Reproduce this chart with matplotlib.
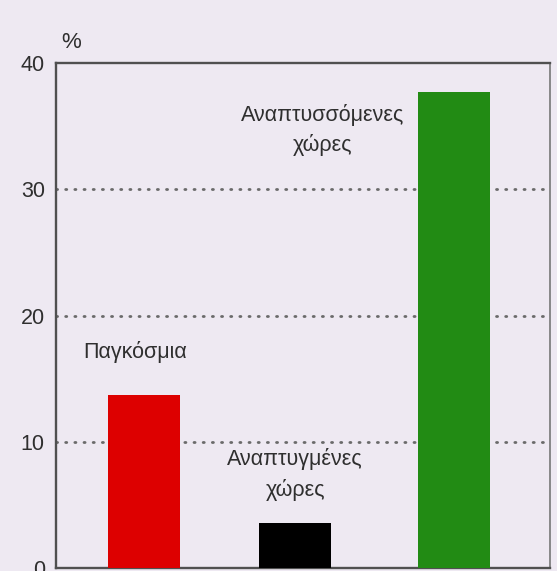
import matplotlib
matplotlib.use('Agg')
import matplotlib.pyplot as plt

# Ποσοστά ανά ομάδα χωρών
groups = ['Παγκόσμια', 'Αναπτυγμένες\nχώρες', 'Αναπτυσσόμενες\nχώρες']
values = [13.7, 3.6, 37.7]
positions = [1.78, 4.83, 8.06]
colors = ['#dd0000', '#000000', '#228b14']
yticks = [0, 10, 20, 30, 40]

plt.rcParams['font.family'] = ['Liberation Sans', 'DejaVu Sans']

bg = '#eee9f2'
ink = '#2f2f2f'
fig = plt.figure(figsize=(5.57, 5.71), dpi=100, facecolor=bg)
ax = fig.add_axes([0.1005, 0.00525, 0.887, 0.8844], facecolor=bg)

ax.bar(positions, values, width=1.46, color=colors, zorder=3)

ax.set_xlim(0, 10)
ax.set_ylim(0, 40)
ax.set_xticks([])
ax.set_yticks(yticks)
ax.tick_params(axis='y', length=0, pad=8, labelsize=15.5, labelcolor=ink)

for s in ax.spines.values():
    s.set_color('#505050')
    s.set_linewidth(1.7)
ax.spines['right'].set_color('#777777')
ax.spines['right'].set_linewidth(1.2)

for y in yticks[1:-1]:
    ax.axhline(y, color='#6a6a6a', lw=2.0, ls=(0, (0.4, 2.9)),
               dash_capstyle='round', zorder=1)

# ετικέτες πάνω από τις στήλες
txt = dict(ha='center', va='center', fontsize=15.5, color=ink, linespacing=1.5)
ax.text(1.6, 17.1, groups[0], **txt)
ax.text(4.84, 7.4, groups[1], **txt)
ax.text(5.4, 34.7, groups[2], **txt)

fig.text(71 / 557, 1 - 43 / 571, '%', ha='center', va='center',
         fontsize=16, color=ink)

fig.savefig('out.png', dpi=100, facecolor=bg)
